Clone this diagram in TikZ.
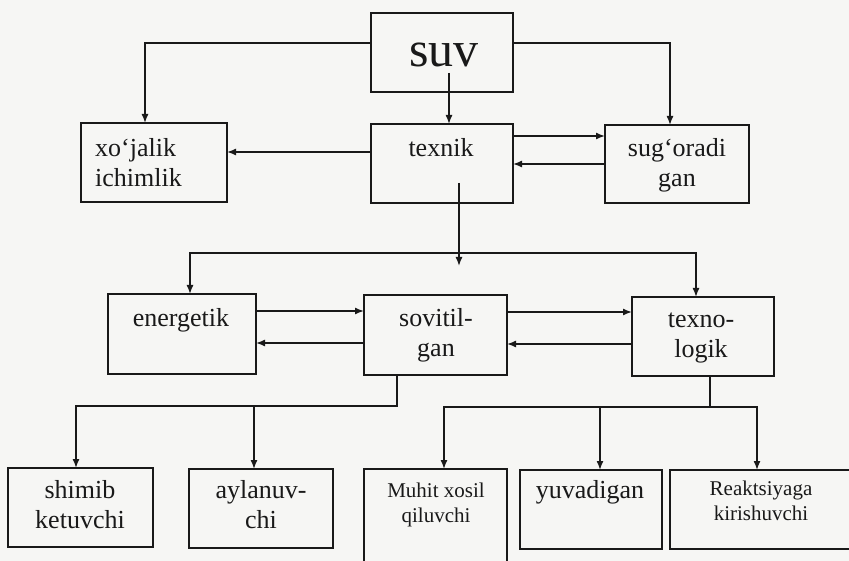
\documentclass[tikz,border=0pt]{standalone}
\usepackage{fontspec}
\setmainfont{Liberation Serif}
\usetikzlibrary{arrows.meta}
\definecolor{ink}{RGB}{25,25,25}
\definecolor{paper}{RGB}{246,246,244}
\begin{document}
\begin{tikzpicture}[x=1pt,y=-1pt,
  box/.style={draw=ink,line width=1.8pt,inner sep=0pt,outer sep=0pt},
  lbl/.style={text=ink,anchor=base,align=center,inner sep=0pt,font=\fontsize{26}{30}\selectfont},
  small/.style={font=\fontsize{21}{25}\selectfont},
  ln/.style={draw=ink,line width=1.4pt},
  arr/.style={ln,-{Latex[length=9pt,width=7pt]}},
  arrb/.style={ln,{Latex[length=9pt,width=7pt]}-{Latex[length=9pt,width=7pt]}}]
\fill[paper] (0,0) rectangle (849,561);
\useasboundingbox (0,0) rectangle (849,561);
% boxes
\node[box,minimum width=142pt,minimum height=79pt] (suv) at (442,52.5) {};
\node[box,minimum width=146pt,minimum height=79pt] (xo) at (154,162.5) {};
\node[box,minimum width=142pt,minimum height=79pt] (tex) at (442,163.5) {};
\node[box,minimum width=144pt,minimum height=78pt] (sug) at (677,164) {};
\node[box,minimum width=148pt,minimum height=80pt] (ene) at (182,334) {};
\node[box,minimum width=143pt,minimum height=80pt] (sov) at (435.5,335) {};
\node[box,minimum width=142pt,minimum height=79pt] (tgl) at (703,336.5) {};
\node[box,minimum width=145pt,minimum height=79pt] (shi) at (80.5,507.5) {};
\node[box,minimum width=144pt,minimum height=79pt] (ayl) at (261,508.5) {};
\node[box,minimum width=143pt,minimum height=106pt] (muh) at (435.5,522) {};
\node[box,minimum width=142pt,minimum height=79pt] (yuv) at (591,509.5) {};
\node[box,minimum width=190pt,minimum height=79pt] (rea) at (765,509.5) {};
% texts (anchor base = baseline of the last line)
\node[lbl,font=\fontsize{50}{56}\selectfont] (tsuv) at (444,67) {suv};
\node[lbl,anchor=base west,align=left] (txo) at (95,187) {xo‘jalik\\ichimlik};
\node[lbl] (ttex) at (441,157) {texnik};
\node[lbl] (tsug) at (677,187) {sug‘oradi\\gan};
\node[lbl] (tene) at (181,327) {energetik};
\node[lbl] (tsov) at (436,357) {sovitil-\\gan};
\node[lbl] (ttgl) at (701,358) {texno-\\logik};
\node[lbl] (tshi) at (80,528) {shimib\\ketuvchi};
\node[lbl] (tayl) at (261,528) {aylanuv-\\chi};
\node[lbl,small] (tmuh) at (436,522) {Muhit xosil\\qiluvchi};
\node[lbl] (tyuv) at (590,498) {yuvadigan};
\node[lbl,small] (trea) at (761,520) {Reaktsiyaga\\kirishuvchi};
% connector coordinates
\coordinate (c1) at (145,43);
\coordinate (c2) at (670,43);
\coordinate (c3) at (449,73);
\coordinate (d1) at (459,183);
\coordinate (d2) at (459,266);
\coordinate (hl) at (190,253);
\coordinate (hr) at (696,253);
\coordinate (s0) at (76,406);
\coordinate (s1) at (397,406);
\coordinate (s2) at (254,406);
\coordinate (t0) at (444,407);
\coordinate (t1) at (710,407);
\coordinate (t2) at (600,407);
\coordinate (t3) at (757,407);
% connectors
\draw[arr] (suv.west |- c1) -| (c1 |- xo.north);
\draw[arr] (suv.east |- c2) -| (c2 |- sug.north);
\draw[arr] (c3) -- (c3 |- tex.north);
\draw[arr] ([yshift=11.5pt]tex.west) -- ([yshift=11.5pt]tex.west -| xo.east);
\draw[arr] ([yshift=27.5pt]tex.east) -- ([yshift=27.5pt]tex.east -| sug.west);
\draw[arr] (sug.west) -- (sug.west -| tex.east);
\draw[arr] (d1) -- (d2);
\draw[arrb] (hl |- ene.north) -- (hl) -- (hr) -- (hr |- tgl.north);
\draw[arr] ([yshift=23pt]ene.east) -- ([yshift=23pt]ene.east -| sov.west);
\draw[arr] ([yshift=-9pt]ene.east -| sov.west) -- ([yshift=-9pt]ene.east);
\draw[arr] ([yshift=23pt]sov.east) -- ([yshift=23pt]sov.east -| tgl.west);
\draw[arr] ([yshift=-9pt]sov.east -| tgl.west) -- ([yshift=-9pt]sov.east);
\draw[arr] (s1 |- sov.south) -- (s1) -- (s0) -- (s0 |- shi.north);
\draw[arr] (s2) -- (s2 |- ayl.north);
\draw[ln] (t1 |- tgl.south) -- (t1);
\draw[arrb] (t0 |- muh.north) -- (t0) -- (t3) -- (t3 |- rea.north);
\draw[arr] (t2) -- (t2 |- yuv.north);
\end{tikzpicture}
\end{document}
